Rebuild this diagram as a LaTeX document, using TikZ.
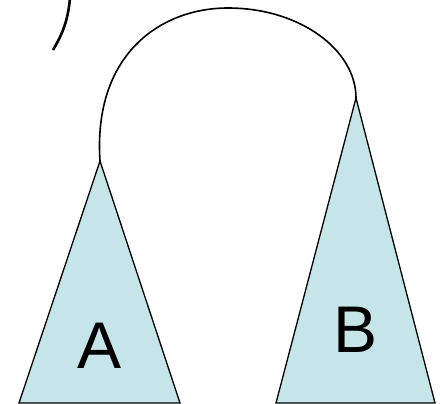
\documentclass[tikz,border=0pt]{standalone}
\usepackage{fontspec}
\setmainfont{Liberation Sans}
\definecolor{treefill}{RGB}{197,229,232}
\begin{document}
\begin{tikzpicture}[x=1pt,y=-1pt,
  tree/.style={fill=treefill,draw=black,line width=1.3pt,line join=miter},
  link/.style={draw=black,line width=1.6pt},
  lbl/.style={font=\fontsize{66}{66}\selectfont,inner sep=0pt}]
\useasboundingbox (0,0) rectangle (440,404);
\coordinate (apexA) at (100,161);
\coordinate (apexB) at (356,98);
\coordinate (top) at (228,8);
\draw[tree] (apexA) -- (19,403) -- (180,403) -- cycle;
\draw[tree] (apexB) -- (276,403) -- (435,403) -- cycle;
\node[lbl] (A) at (100,346) {A};
\node[lbl] (B) at (356,330) {B};
\draw[link] (apexA) .. controls (93,55) and (160,8) .. (top)
  .. controls (300,8) and (356,50) .. (apexB);
\coordinate (p1) at (70,-2);
\coordinate (p2) at (53,50);
\draw[line width=2.6pt] (p1) .. controls (68,20) and (63,33) .. (p2);
\end{tikzpicture}
\end{document}
